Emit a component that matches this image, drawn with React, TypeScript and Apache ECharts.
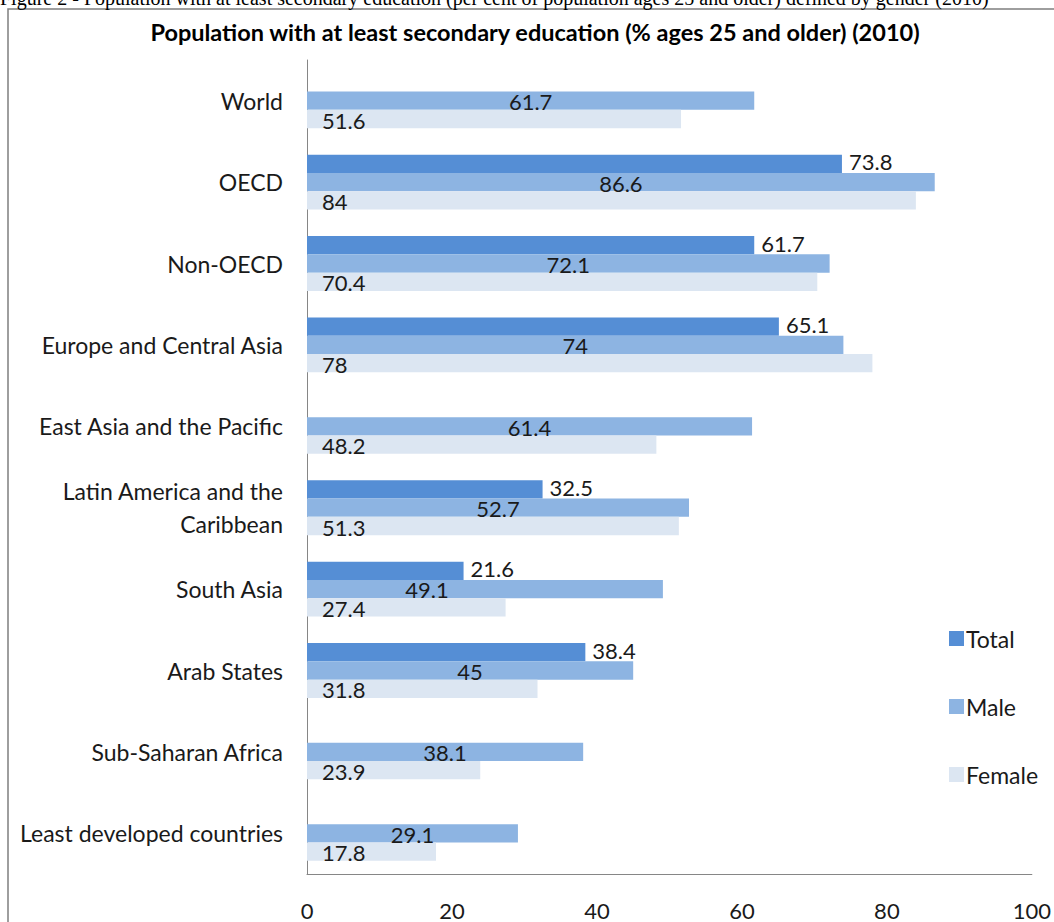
import React, { useEffect, useRef } from "react";
import * as echarts from "echarts";

const categories = [
  "World",
  "OECD",
  "Non-OECD",
  "Europe and Central Asia",
  "East Asia and the Pacific",
  "Latin America and the Caribbean",
  "South Asia",
  "Arab States",
  "Sub-Saharan Africa",
  "Least developed countries",
];
const totalValues: (number | null)[] = [null, 73.8, 61.7, 65.1, null, 32.5, 21.6, 38.4, null, null];
const maleValues = [61.7, 86.6, 72.1, 74, 61.4, 52.7, 49.1, 45, 38.1, 29.1];
const femaleValues = [51.6, 84, 70.4, 78, 48.2, 51.3, 27.4, 31.8, 23.9, 17.8];
const xTicks = { min: 0, max: 100, interval: 20 };

const FONT = "Lato, 'Open Sans', sans-serif";
const TXT = "#1a1a1a";

export default function App() {
  const ref = useRef<HTMLDivElement>(null);
  useEffect(() => {
    if (!ref.current) return;
    const chart = echarts.init(ref.current, null, { renderer: "svg" });
    const lbl = { fontFamily: FONT, fontSize: 22, color: TXT };
    chart.setOption({
      animation: false,
      backgroundColor: "#ffffff",
      textStyle: { fontFamily: FONT },
      graphic: [
        {
          type: "text",
          left: 0,
          top: -12,
          style: {
            text: "Figure 2 - Population with at least secondary education (per cent of population ages 25 and older) defined by gender (2010)",
            font: "20px 'Liberation Serif', 'Times New Roman', serif",
            fill: "#000",
          },
        },
        {
          type: "rect",
          shape: { x: 8, y: 9, width: 1200, height: 1200 },
          style: { fill: "none", stroke: "#7f7f7f", lineWidth: 1.5 },
          z: -1,
        },
        {
          type: "text",
          x: 535,
          y: 32,
          style: {
            text: "Population with at least secondary education (% ages 25 and older) (2010)",
            font: "bold 23.5px Lato, 'Open Sans', sans-serif",
            fill: "#000",
            align: "center",
            verticalAlign: "middle",
          },
        },
      ],
      legend: {
        orient: "vertical",
        left: 944,
        top: 622,
        itemWidth: 15,
        itemHeight: 15,
        itemGap: 45,
        icon: "rect",
        textStyle: { fontFamily: FONT, fontSize: 23, color: TXT, padding: [0, 0, 0, -3] },
        data: ["Total", "Male", "Female"],
      },
      grid: { left: 307, right: 19, top: 60, bottom: 48, containLabel: false },
      xAxis: {
        type: "value",
        min: xTicks.min,
        max: xTicks.max,
        interval: xTicks.interval,
        splitLine: { show: false },
        axisTick: { show: false },
        axisLine: { show: true, lineStyle: { color: "#868686", width: 1 } },
        axisLabel: { fontFamily: FONT, fontSize: 22, color: TXT, margin: 25 },
      },
      yAxis: {
        type: "category",
        data: categories,
        inverse: true,
        axisTick: { show: false },
        axisLine: { show: true, lineStyle: { color: "#868686", width: 1 } },
        axisLabel: {
          fontFamily: FONT,
          fontSize: 23,
          color: TXT,
          margin: 24,
          lineHeight: 33,
          formatter: (v: string) => v.replace("and the Caribbean", "and the\nCaribbean"),
        },
      },
      series: [
        {
          name: "Total",
          type: "bar",
          data: totalValues,
          itemStyle: { color: "#558ed5" },
          barGap: "0%",
          barCategoryGap: "32.5%",
          label: { show: true, position: "right", distance: 7, offset: [0, -2], ...lbl },
        },
        {
          name: "Male",
          type: "bar",
          data: maleValues.map((v, i) =>
            categories[i] === "South Asia" ? { value: v, label: { offset: [-58, 0] } } : v
          ),
          itemStyle: { color: "#8db4e2" },
          barGap: "0%",
          barCategoryGap: "32.5%",
          label: { show: true, position: "inside", offset: [0, 1], ...lbl },
        },
        {
          name: "Female",
          type: "bar",
          data: femaleValues,
          itemStyle: { color: "#dce6f2" },
          barGap: "0%",
          barCategoryGap: "32.5%",
          label: { show: true, position: "insideLeft", distance: 15, offset: [0, 1], ...lbl },
        },
      ],
    });
    return () => chart.dispose();
  }, []);
  return (
    <div
      ref={ref}
      style={{ position: "fixed", left: 0, top: 0, width: 1054, height: 922 }}
    />
  );
}
